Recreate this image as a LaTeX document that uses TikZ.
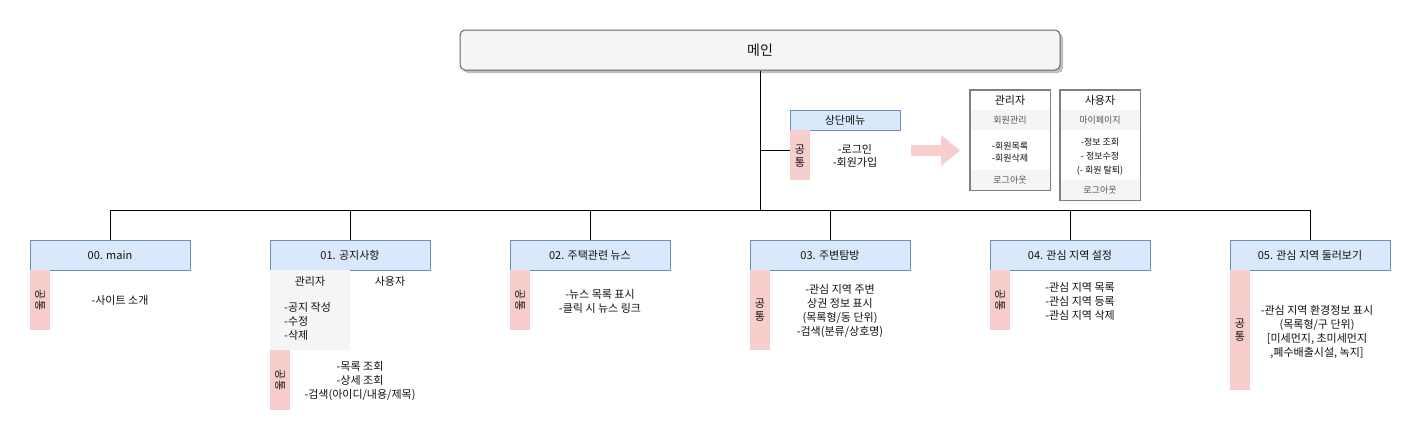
\documentclass[tikz,border=0pt]{standalone}
\usepackage{fontspec}
\setmainfont{Noto Sans CJK KR}
\usetikzlibrary{shadows}
\definecolor{catfill}{HTML}{DAE8FC}
\definecolor{catdraw}{HTML}{6C8EBF}
\definecolor{pinkfill}{HTML}{F8CECC}
\definecolor{lightgray}{HTML}{F5F5F5}
\definecolor{boxdraw}{HTML}{666666}
\definecolor{tbldraw}{HTML}{808080}
\definecolor{txtc}{HTML}{111111}
\definecolor{subtxt}{HTML}{555555}
\begin{document}
\begin{tikzpicture}[x=1pt,y=-1pt,
  txt/.style={text=txtc, inner sep=0pt, align=center, font=\fontsize{11}{14}\selectfont},
  cat/.style={draw=catdraw, fill=catfill, line width=1pt, minimum width=160pt, minimum height=30pt, inner sep=0pt, text=txtc, font=\fontsize{11}{14}\selectfont},
  pinkbox/.style={fill=pinkfill, draw=none, minimum width=20pt, inner sep=0pt},
  mainbox/.style={draw=boxdraw, fill=lightgray, line width=1pt, rounded corners=5pt, minimum width=600pt, minimum height=40pt, inner sep=0pt, text=txtc, font=\fontsize{14}{17}\selectfont, drop shadow={shadow xshift=3pt, shadow yshift=-3pt, fill=black!25, opacity=1}},
  tblframe/.style={draw=tbldraw, fill=white, line width=1pt, minimum width=80pt, inner sep=0pt},
  tblrow/.style={fill=lightgray, draw=none, minimum width=79pt, minimum height=20pt, inner sep=0pt, text=subtxt, font=\fontsize{9}{12}\selectfont},
  tbltitle/.style={inner sep=0pt, text=txtc, font=\fontsize{11}{14}\selectfont},
  tblitems/.style={inner sep=0pt, align=center, text=txtc, font=\fontsize{9}{12.5}\selectfont},
  conn/.style={draw=black, line width=1pt},
  bigarrow/.style={fill=pinkfill, draw=none}
]
\useasboundingbox (0,0) rectangle (1421,442);

% main
\node[mainbox] (main) at (760,50) {메인};

% junctions
\coordinate (bm) at (760,210);
\coordinate (tj) at (760,150);
\coordinate (b0) at (110,210);
\coordinate (b1) at (350,210);
\coordinate (b2) at (590,210);
\coordinate (b3) at (830,210);
\coordinate (b4) at (1070,210);
\coordinate (b5) at (1310,210);

% top menu
\node[cat, minimum width=110pt, minimum height=20pt] (top) at (845,120) {상단메뉴};
\node[pinkbox, minimum height=50pt] (ptop) at (800,155) {};
\node[txt, font=\fontsize{11}{13}\selectfont] (ptopt) at (800,156) {공\\통};
\node[txt, font=\fontsize{11}{13}\selectfont] (toptxt) at (855,156) {-로그인\\-회원가입};

% big arrow
\fill[bigarrow] (911,145) -- (941,145) -- (941,135) -- (960,150.5) -- (941,166) -- (941,156) -- (911,156) -- cycle;

% admin table
\node[tblframe, minimum height=100pt] (adm) at (1010,140) {};
\node[tbltitle] (admt) at (1010,100) {관리자};
\node[tblrow] (adm1) at (1010,120) {회원관리};
\node[tblitems] (adm2) at (1010,152) {-회원목록\\-회원삭제};
\node[tblrow] (adm3) at (1010,180) {로그아웃};
\draw[draw=tbldraw, line width=1pt] (adm.north west) rectangle (adm.south east);

% user table
\node[tblframe, minimum height=110pt] (usr) at (1100,145) {};
\node[tbltitle] (usrt) at (1100,100) {사용자};
\node[tblrow] (usr1) at (1100,120) {마이페이지};
\node[tblitems, font=\fontsize{9}{14}\selectfont] (usr2) at (1100,157) {-정보 조회\\- 정보수정\\(- 회원 탈퇴)};
\node[tblrow] (usr3) at (1100,190) {로그아웃};
\draw[draw=tbldraw, line width=1pt] (usr.north west) rectangle (usr.south east);

% categories
\node[cat] (c0) at (110,255) {00. main};
\node[cat] (c1) at (350,255) {01. 공지사항};
\node[cat] (c2) at (590,255) {02. 주택관련 뉴스};
\node[cat] (c3) at (830,255) {03. 주변탐방};
\node[cat] (c4) at (1070,255) {04. 관심 지역 설정};
\node[cat] (c5) at (1310,255) {05. 관심 지역 둘러보기};

% connectors
\draw[conn] (main.south) -- (bm);
\draw[conn] (b0) -- (b5);
\draw[conn] (tj) -- (tj -| ptop.west);
\draw[conn] (b0) -- (c0.north);
\draw[conn] (b1) -- (c1.north);
\draw[conn] (b2) -- (c2.north);
\draw[conn] (b3) -- (c3.north);
\draw[conn] (b4) -- (c4.north);
\draw[conn] (b5) -- (c5.north);

% 00
\node[pinkbox, minimum height=60pt] (p0) at (40,300) {};
\node[txt, rotate=-90] (p0t) at (p0) {공통};
\node[txt] (t0) at (120,300) {-사이트 소개};

% 01
\node[fill=lightgray, draw=none, minimum width=80pt, minimum height=80pt, inner sep=0pt] (a1) at (310,310) {};
\node[txt] (a1t) at (310,281) {관리자};
\node[txt] (u1t) at (390,281) {사용자};
\node[txt, align=left, anchor=west] (a1i) at (284,321) {-공지 작성\\-수정\\-삭제};
\node[pinkbox, minimum height=60pt] (p1) at (280,380) {};
\node[txt, rotate=-90] (p1t) at (p1) {공통};
\node[txt] (t1) at (360,381) {-목록 조회\\-상세 조회\\-검색(아이디/내용/제목)};

% 02
\node[pinkbox, minimum height=60pt] (p2) at (520,300) {};
\node[txt, rotate=-90] (p2t) at (p2) {공통};
\node[txt] (t2) at (600,301) {-뉴스 목록 표시\\-클릭 시 뉴스 링크};

% 03
\node[pinkbox, minimum height=80pt] (p3) at (760,310) {};
\node[txt, font=\fontsize{11}{13}\selectfont] (p3t) at (p3) {공\\통};
\node[txt] (t3) at (840,311) {-관심 지역 주변\\상권 정보 표시\\(목록형/동 단위)\\-검색(분류/상호명)};

% 04
\node[pinkbox, minimum height=60pt] (p4) at (1000,300) {};
\node[txt, rotate=-90] (p4t) at (p4) {공통};
\node[txt] (t4) at (1080,301) {-관심 지역 목록\\-관심 지역 등록\\-관심 지역 삭제};

% 05
\node[pinkbox, minimum height=120pt] (p5) at (1240,330) {};
\node[txt, font=\fontsize{11}{13}\selectfont] (p5t) at (p5) {공\\통};
\node[txt] (t5) at (1317,332) {-관심 지역 환경정보 표시\\(목록형/구 단위)\\{[}미세먼지, 초미세먼지\\,폐수배출시설, 녹지{]}};
\end{tikzpicture}
\end{document}
